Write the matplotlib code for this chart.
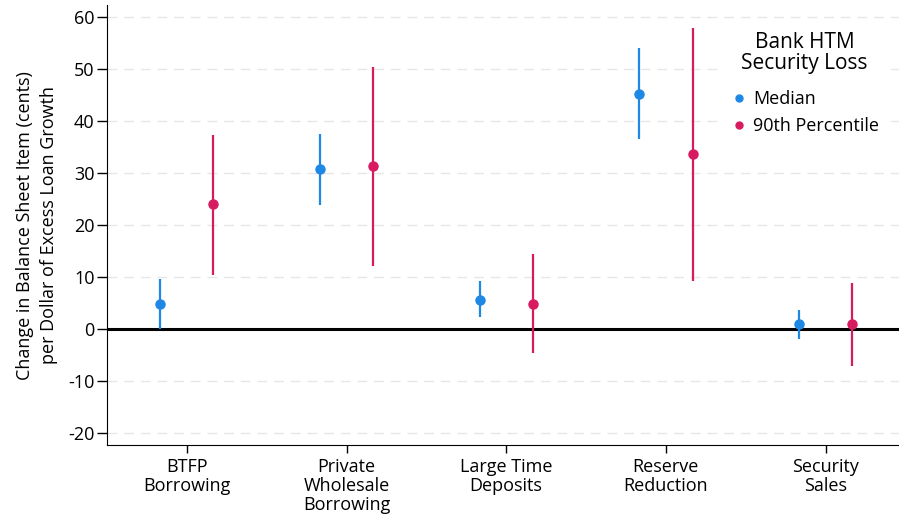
import matplotlib.pyplot as plt
from matplotlib.lines import Line2D
import numpy as np

plt.rcParams['font.family'] = ['Open Sans', 'DejaVu Sans']

categories = ['BTFP\nBorrowing', 'Private\nWholesale\nBorrowing', 'Large Time\nDeposits',
              'Reserve\nReduction', 'Security\nSales']

# point estimates and interval ends (cents per dollar)
median_est = [4.8, 30.8, 5.7, 45.3, 0.9]
median_lo = [0.0, 23.9, 2.3, 36.6, -1.9]
median_hi = [9.6, 37.6, 9.2, 54.0, 3.7]

p90_est = [24.0, 31.3, 4.9, 33.7, 1.0]
p90_lo = [10.4, 12.2, -4.6, 9.3, -7.0]
p90_hi = [37.4, 50.4, 14.4, 58.0, 8.8]

yticks = [-20, -10, 0, 10, 20, 30, 40, 50, 60]

blue = '#1E88E5'
red = '#D81B60'
offset = 0.167

fig = plt.figure(figsize=(8.99, 5.17), dpi=100)
ax = fig.add_axes([0.119, 0.139, 0.881, 0.851])

x = np.arange(len(categories))

# light dashed grid
for yv in yticks:
    if yv != 0:
        ax.axhline(yv, color='#e6e6e6', lw=1.0, ls=(0, (7, 5)), zorder=0)
ax.axhline(0, color='black', lw=2.2, zorder=1)


def draw_series(xs, est, lo, hi, color):
    est = np.array(est)
    err = [est - np.array(lo), np.array(hi) - est]
    ax.errorbar(xs, est, yerr=err, fmt='o', color=color, ecolor=color,
                elinewidth=1.6, markersize=6.5, capsize=0, zorder=3)


draw_series(x - offset, median_est, median_lo, median_hi, blue)
draw_series(x + offset, p90_est, p90_lo, p90_hi, red)

ax.set_xlim(-0.5, 4.46)
ax.set_ylim(-22.3, 62.3)
ax.set_xticks(x)
ax.set_xticklabels(categories, fontsize=13, linespacing=1.1)
ax.set_yticks(yticks)
ax.set_yticklabels([str(v) for v in yticks], fontsize=13)
ax.tick_params(axis='x', length=6, width=1, pad=3)
ax.tick_params(axis='y', length=7, width=1, pad=2)

ax.spines['top'].set_visible(False)
ax.spines['right'].set_visible(False)

ax.set_ylabel('Change in Balance Sheet Item (cents)\nper Dollar of Excess Loan Growth',
              fontsize=13, linespacing=1.45, labelpad=7)

handles = [Line2D([], [], marker='o', ls='none', color=blue, markersize=5),
           Line2D([], [], marker='o', ls='none', color=red, markersize=5)]
leg = ax.legend(handles, ['Median', '90th Percentile'], title='Bank HTM\nSecurity Loss',
                loc='upper right', bbox_to_anchor=(1.0, 0.985),
                fontsize=13, title_fontsize=15, frameon=True, facecolor='white',
                edgecolor='white', framealpha=1, handletextpad=0.3, handlelength=1.0,
                labelspacing=0.5, borderpad=0.6)
leg.get_title().set_multialignment('center')
leg.get_title().set_linespacing(1.0)
# a bit more room between the title and the entries
leg._legend_box.sep = 12

fig.savefig('out.png', dpi=100)
